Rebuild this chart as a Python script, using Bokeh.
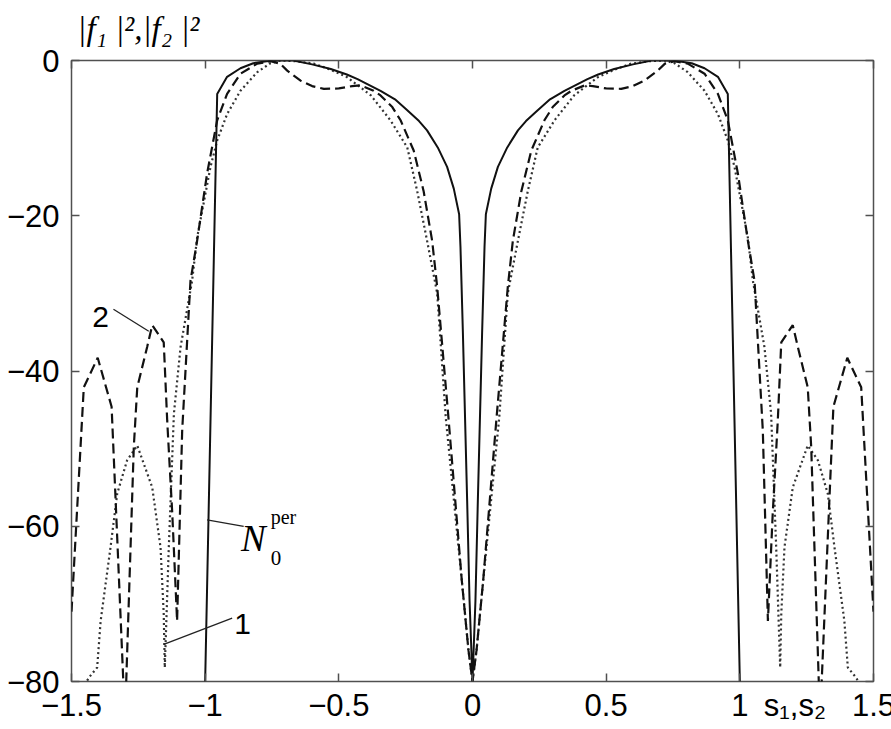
from bokeh.plotting import figure
from bokeh.models import Label, LinearAxis, FixedTicker, Range1d
from bokeh.embed import file_html
from bokeh.resources import INLINE

# ---------------- data ----------------
# curve N0^per (solid)
solid_x = [-1.0, -0.955, -0.918, -0.868, -0.82, -0.77, -0.72, -0.67, -0.6, -0.53, -0.47, -0.43,
           -0.344, -0.29, -0.244, -0.2, -0.17, -0.13, -0.095, -0.07, -0.05, -0.045, -0.036,
           -0.02, -0.011, 0.0,
           0.011, 0.02, 0.036, 0.045, 0.05, 0.07, 0.095, 0.13, 0.17, 0.2, 0.244, 0.29, 0.344,
           0.43, 0.47, 0.53, 0.6, 0.67, 0.72, 0.77, 0.82, 0.868, 0.918, 0.955, 1.0]
solid_y = [-80, -4.3, -2.1, -1.0, -0.35, -0.1, 0.0, 0.0, -0.5, -1.1, -1.8, -2.4,
           -3.9, -5.0, -6.4, -7.8, -9.0, -11.2, -13.7, -16.5, -19.8, -24.0, -35.0,
           -56.7, -69.6, -80,
           -69.6, -56.7, -35.0, -24.0, -19.8, -16.5, -13.7, -11.2, -9.0, -7.8, -6.4, -5.0, -3.9,
           -2.4, -1.8, -1.1, -0.5, 0.0, 0.0, -0.1, -0.35, -1.0, -2.1, -4.3, -80]

# curve 2 (dashed)
dash_x = [-1.5, -1.454, -1.402, -1.35, -1.336, -1.30, -1.267, -1.254, -1.217, -1.198, -1.155,
          -1.142, -1.123, -1.105, -1.086, -1.055, -1.03, -0.993, -0.955, -0.918, -0.868, -0.805,
          -0.756, -0.72, -0.693, -0.643, -0.6, -0.556, -0.5, -0.45, -0.42, -0.37, -0.344, -0.3,
          -0.269, -0.22, -0.183, -0.151, -0.132, -0.09, -0.04, -0.015, 0.0,
          0.015, 0.04, 0.09, 0.132, 0.151, 0.183, 0.22, 0.269, 0.3, 0.344, 0.37, 0.42, 0.45,
          0.5, 0.556, 0.6, 0.643, 0.693, 0.72, 0.756, 0.805, 0.868, 0.918, 0.955, 0.993, 1.03,
          1.055, 1.086, 1.105, 1.123, 1.142, 1.155, 1.198, 1.217, 1.254, 1.267, 1.30, 1.336,
          1.35, 1.402, 1.454, 1.5]
dash_y = [-71, -42.1, -38.3, -44.6, -55.8, -85, -49.8, -42.1, -36.9, -34.1, -36.3,
          -46.4, -58.4, -72.2, -47.7, -28.4, -23.2, -14.6, -7.7, -4.3, -1.7, -0.4,
          -0.1, -0.4, -1.3, -2.6, -3.3, -3.65, -3.6, -3.3, -3.2, -3.9, -4.5, -6.0,
          -7.7, -11.6, -16.8, -23.2, -29.2, -46.0, -67.0, -76.0, -80,
          -76.0, -67.0, -46.0, -29.2, -23.2, -16.8, -11.6, -7.7, -6.0, -4.5, -3.9, -3.2, -3.3,
          -3.6, -3.65, -3.3, -2.6, -1.3, -0.4, -0.1, -0.4, -1.7, -4.3, -7.7, -14.6, -23.2,
          -28.4, -47.7, -72.2, -58.4, -46.4, -36.3, -34.1, -36.9, -42.1, -49.8, -85, -55.8,
          -44.6, -38.3, -42.1, -71]

# curve 1 (dotted)
dot_x = [-1.46, -1.435, -1.404, -1.391, -1.354, -1.329, -1.292, -1.254, -1.198, -1.167, -1.155,
         -1.151, -1.136, -1.117, -1.092, -1.049, -1.03, -0.98, -0.955, -0.918, -0.868, -0.805,
         -0.756, -0.718, -0.66, -0.594, -0.53, -0.469, -0.38, -0.307, -0.244, -0.207, -0.17,
         -0.132, -0.1, -0.04, -0.015, 0.0,
         0.015, 0.04, 0.1, 0.132, 0.17, 0.207, 0.244, 0.307, 0.38, 0.469, 0.53, 0.594, 0.66,
         0.718, 0.756, 0.805, 0.868, 0.918, 0.955, 0.98, 1.03, 1.049, 1.092, 1.117, 1.136,
         1.151, 1.155, 1.167, 1.198, 1.254, 1.292, 1.329, 1.354, 1.391, 1.404, 1.435, 1.46]
dot_y = [-81, -79.5, -78.2, -72.2, -62.7, -55.8, -51.5, -49.6, -55.0, -62.7, -71.3,
         -78.2, -62.7, -45.5, -36.9, -28.4, -22.8, -13.7, -10.3, -6.9, -3.9, -1.5,
         -0.35, 0.0, -0.1, -0.4, -1.2, -2.15, -4.5, -7.7, -11.2, -16.8, -23.2,
         -30.0, -46.0, -67.0, -76.0, -80,
         -76.0, -67.0, -46.0, -30.0, -23.2, -16.8, -11.2, -7.7, -4.5, -2.15, -1.2, -0.4, -0.1,
         0.0, -0.35, -1.5, -3.9, -6.9, -10.3, -13.7, -22.8, -28.4, -36.9, -45.5, -62.7,
         -78.2, -71.3, -62.7, -55.0, -49.6, -51.5, -55.8, -62.7, -72.2, -78.2, -79.5, -81]

x_ticks = [-1.5, -1.0, -0.5, 0.0, 0.5, 1.0, 1.5]
x_tick_labels = ["\u22121.5", "\u22121", "\u22120.5", "0", "0.5", "1", "1.5"]
y_ticks = [-80, -60, -40, -20, 0]
y_tick_labels = ["\u221280", "\u221260", "\u221240", "\u221220", "0"]

x_title = "s\u2081,s\u2082"
x_title_at = 1.206
y_title = "|f\u2081 |\u00b2,|f\u2082 |\u00b2"

# ---------------- figure ----------------
p = figure(width=891, height=727, output_backend="svg", toolbar_location=None,
           x_range=Range1d(-1.5, 1.5), y_range=Range1d(-80, 0),
           min_border_left=71, min_border_right=18, min_border_top=60, min_border_bottom=46)
p.background_fill_color = "white"
p.border_fill_color = "white"
p.grid.visible = False
p.outline_line_color = "#505050"
p.outline_line_width = 1.5

SANS = "Liberation Sans"
SERIF = "Liberation Serif"
TICK_COLOR = "#505050"
NB = "\u00a0"


def tick_only_axis(ticks):
    ax = LinearAxis(ticker=FixedTicker(ticks=ticks))
    ax.major_label_overrides = {t: "" for t in ticks}
    ax.major_tick_in = 8
    ax.major_tick_out = 0
    ax.minor_tick_line_color = None
    ax.major_tick_line_color = TICK_COLOR
    ax.major_tick_line_width = 1.5
    ax.axis_line_color = None
    ax.major_label_standoff = 0
    return ax


# left axis: ticks + numbers
ya = p.yaxis[0]
ya.ticker = FixedTicker(ticks=y_ticks)
ya.major_label_overrides = {t: l for t, l in zip(y_ticks, y_tick_labels)}
ya.major_tick_in = 8
ya.major_tick_out = 0
ya.minor_tick_line_color = None
ya.major_tick_line_color = TICK_COLOR
ya.major_tick_line_width = 1.5
ya.axis_line_color = None
ya.major_label_text_font = SANS
ya.major_label_text_font_size = "31px"
ya.major_label_text_color = "black"
ya.major_label_standoff = 12

# bottom: a tick-only axis next to the frame, then the numbers (and the x title) without marks
xa = p.xaxis[0]
xa.ticker = FixedTicker(ticks=x_ticks + [x_title_at])
overrides = {t: l for t, l in zip(x_ticks, x_tick_labels)}
overrides[x_title_at] = x_title
xa.major_label_overrides = overrides
xa.major_tick_in = 0
xa.major_tick_out = 0
xa.major_tick_line_color = None
xa.minor_tick_line_color = None
xa.axis_line_color = None
xa.major_label_text_font = SANS
xa.major_label_text_font_size = "31px"
xa.major_label_text_color = "black"
xa.major_label_standoff = 6

bottom_ticks = tick_only_axis(x_ticks)
p.below = [bottom_ticks, xa]

top_ax = tick_only_axis(x_ticks)
right_ax = tick_only_axis(y_ticks)
p.add_layout(top_ax, "above")
p.add_layout(right_ax, "right")

# y title above the frame, at its left end: the label is centred over the frame,
# so trailing non-breaking spaces move the visible text to the left end
top_ax.axis_label = y_title + NB * 81
top_ax.axis_label_text_font = SERIF
top_ax.axis_label_text_font_style = "italic"
top_ax.axis_label_text_font_size = "33px"
top_ax.axis_label_text_color = "black"
top_ax.axis_label_standoff = 14
top_ax.axis_label_align = "center"

# curves
p.line(dot_x, dot_y, line_color="#333333", line_width=2.2, line_dash="2 3")
p.line(dash_x, dash_y, line_color="#111111", line_width=2.2, line_dash="10 5")
p.line(solid_x, solid_y, line_color="#111111", line_width=2.0)

# leader lines for the curve labels
p.line([-1.343, -1.211], [-32.05, -34.88], line_color="#222222", line_width=1.3)
p.line([-0.899, -1.155], [-71.84, -75.23], line_color="#222222", line_width=1.3)
p.line([-0.993, -0.856], [-59.17, -60.03], line_color="#222222", line_width=1.3)


def lab(x, y, text, font=SANS, size="30px", style="normal", align="left"):
    p.add_layout(Label(x=x, y=y, text=text, text_font=font, text_font_size=size,
                       text_font_style=style, text_align=align, text_baseline="alphabetic",
                       text_color="black"))


# curve labels
lab(-1.3916, -33.07, "2", align="center")
lab(-0.8604, -72.57, "1", align="center")
lab(-0.866, -61.58, "N", font=SERIF, size="37px", style="italic")
lab(-0.755, -58.87, "per", font=SERIF, size="20px")
lab(-0.755, -64.15, "0", font=SERIF, size="21px")

open("out.html", "w").write(file_html(p, INLINE))
